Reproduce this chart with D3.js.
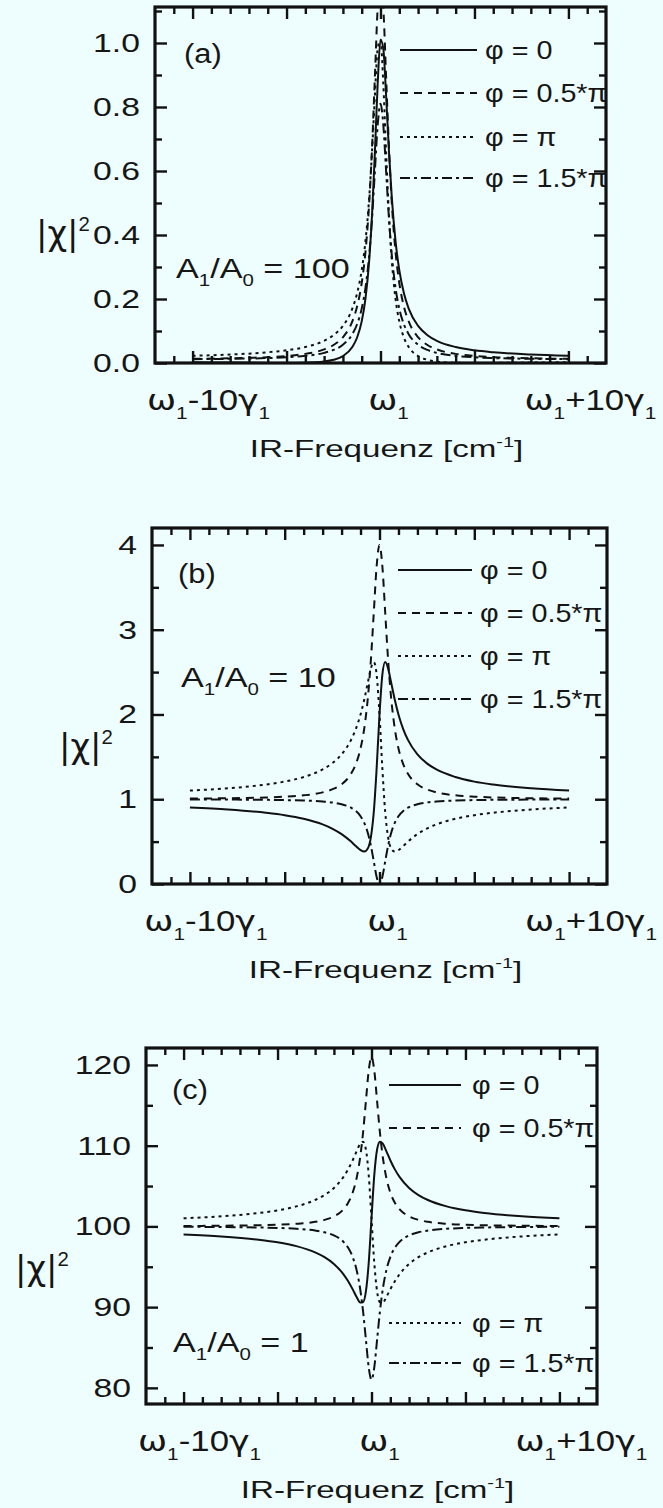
<!DOCTYPE html>
<html>
<head>
<meta charset="utf-8">
<script src="https://cdn.jsdelivr.net/npm/d3@7"></script>
<style>
  html, body { margin: 0; padding: 0; background: #eefefe; }
  svg { display: block; }
  text { font-family: "Liberation Sans", Arial, Helvetica, sans-serif; fill: #161616; }
  .greek { font-family: "DejaVu Sans", sans-serif; }
</style>
</head>
<body>
<svg id="fig" width="663" height="1508"></svg>
<script>
// Detuning from ω1, in units of γ1
const xGamma = [-10, -8, -6, -5, -4, -3, -2.5, -2, -1.5, -1.25, -1, -0.8, -0.6, -0.45, -0.3, -0.15, 0,
                0.15, 0.3, 0.45, 0.6, 0.8, 1, 1.25, 1.5, 2, 2.5, 3, 4, 5, 6, 8, 10];

const phaseLabels = ["φ = 0", "φ = 0.5*π", "φ = π", "φ = 1.5*π"];

// (a) A1/A0 = 100
const a100Phi0 = [0.0025, 0.0014, 0.0003, 0.0001, 0.0008, 0.0046, 0.0100, 0.0217, 0.05, 0.0789, 0.13, 0.2010, 0.3214, 0.4631, 0.6571, 0.8724, 1.01,
                  0.9824, 0.8335, 0.6619, 0.5182, 0.3808, 0.29, 0.2169, 0.17, 0.1159, 0.0870, 0.0694, 0.0500, 0.0397, 0.0335, 0.0264, 0.0225];
const a100Phi05 = [0.013, 0.0147, 0.0183, 0.0219, 0.0285, 0.0424, 0.0562, 0.0806, 0.13, 0.1755, 0.25, 0.3471, 0.5018, 0.673, 0.8924, 1.1109, 1.21,
                   1.1109, 0.8924, 0.673, 0.5018, 0.3471, 0.25, 0.1755, 0.13, 0.0806, 0.0562, 0.0424, 0.0285, 0.0219, 0.0183, 0.0147, 0.013];
const a100Phi1 = [0.0225, 0.0264, 0.0335, 0.0397, 0.0500, 0.0694, 0.0870, 0.1159, 0.17, 0.2169, 0.29, 0.3808, 0.5182, 0.6619, 0.8335, 0.9824, 1.01,
                  0.8724, 0.6571, 0.4631, 0.3214, 0.2010, 0.13, 0.0789, 0.05, 0.0217, 0.0100, 0.0046, 0.0008, 0.0001, 0.0003, 0.0014, 0.0025];
const a100Phi15 = [0.012, 0.0131, 0.0155, 0.0179, 0.0223, 0.0316, 0.0408, 0.057, 0.09, 0.1203, 0.17, 0.2347, 0.3378, 0.452, 0.5982, 0.7439, 0.81,
                   0.7439, 0.5982, 0.452, 0.3378, 0.2347, 0.17, 0.1203, 0.09, 0.057, 0.0408, 0.0316, 0.0223, 0.0179, 0.0155, 0.0131, 0.012];

// (b) A1/A0 = 10
const a10Phi0 = [0.903, 0.879, 0.841, 0.812, 0.769, 0.703, 0.654, 0.588, 0.5, 0.448, 0.4, 0.382, 0.426, 0.558, 0.853, 1.367, 2.0,
                 2.468, 2.618, 2.547, 2.393, 2.180, 2.0, 1.828, 1.7, 1.529, 1.423, 1.351, 1.262, 1.208, 1.173, 1.129, 1.102];
const a10Phi05 = [1.008, 1.012, 1.021, 1.030, 1.046, 1.081, 1.116, 1.176, 1.3, 1.414, 1.6, 1.843, 2.229, 2.658, 3.206, 3.752, 4.0,
                  3.752, 3.206, 2.658, 2.229, 1.843, 1.6, 1.414, 1.3, 1.176, 1.116, 1.081, 1.046, 1.030, 1.021, 1.012, 1.008];
const a10Phi1 = [1.102, 1.129, 1.173, 1.208, 1.262, 1.351, 1.423, 1.529, 1.7, 1.828, 2.0, 2.180, 2.393, 2.547, 2.618, 2.468, 2.0,
                 1.367, 0.853, 0.558, 0.426, 0.382, 0.4, 0.448, 0.5, 0.588, 0.654, 0.703, 0.769, 0.812, 0.841, 0.879, 0.903];
const a10Phi15 = [0.998, 0.996, 0.993, 0.990, 0.985, 0.973, 0.962, 0.941, 0.9, 0.862, 0.8, 0.719, 0.590, 0.448, 0.265, 0.083, 0.0,
                  0.083, 0.265, 0.448, 0.590, 0.719, 0.8, 0.862, 0.9, 0.941, 0.962, 0.973, 0.985, 0.990, 0.993, 0.996, 0.998];

// (c) A1/A0 = 1
const a1Phi0 = [99.005, 98.758, 98.351, 98.030, 97.553, 96.783, 96.193, 95.353, 94.1, 93.242, 92.2, 91.293, 90.574, 90.609, 91.911, 95.413, 101,
                106.421, 109.559, 110.497, 110.246, 109.269, 108.2, 107.034, 106.1, 104.765, 103.885, 103.271, 102.477, 101.990, 101.663, 101.250, 101.001];
const a1Phi05 = [100.053, 100.082, 100.145, 100.208, 100.323, 100.567, 100.808, 101.235, 102.1, 102.896, 104.2, 105.899, 108.606, 111.603, 115.441, 119.265, 121,
                 119.265, 115.441, 111.603, 108.606, 105.899, 104.2, 102.896, 102.1, 101.235, 100.808, 100.567, 100.323, 100.208, 100.145, 100.082, 100.053];
const a1Phi1 = [101.001, 101.250, 101.663, 101.990, 102.477, 103.271, 103.885, 104.765, 106.1, 107.034, 108.2, 109.269, 110.246, 110.497, 109.559, 106.421, 101,
                95.413, 91.911, 90.609, 90.574, 91.293, 92.2, 93.242, 94.1, 95.353, 96.193, 96.783, 97.553, 98.030, 98.351, 98.758, 99.005];
const a1Phi15 = [99.953, 99.926, 99.869, 99.812, 99.707, 99.487, 99.269, 98.883, 98.1, 97.380, 96.2, 94.663, 92.214, 89.503, 86.029, 82.569, 81,
                 82.569, 86.029, 89.503, 92.214, 94.663, 96.2, 97.380, 98.1, 98.883, 99.269, 99.487, 99.707, 99.812, 99.869, 99.926, 99.953];

// Axis ticks
const xTickLabels = [
  [{ t: "ω", g: true }, { t: "1", sub: true }, { t: "-10" }, { t: "γ", g: true }, { t: "1", sub: true }],
  [{ t: "ω", g: true }, { t: "1", sub: true }],
  [{ t: "ω", g: true }, { t: "1", sub: true }, { t: "+10" }, { t: "γ", g: true }, { t: "1", sub: true }]
];
const xMajorTicks = [-10, -5, 0, 5, 10];
const xLabelTicks = [-10, 0, 10];
const xMinorTicks = d3.range(-11, 12, 1);

const yTicksA = [0.0, 0.2, 0.4, 0.6, 0.8, 1.0];
const yMinorA = [0.1, 0.3, 0.5, 0.7, 0.9, 1.1];
const yTicksB = [0, 1, 2, 3, 4];
const yMinorB = [0.5, 1.5, 2.5, 3.5];
const yTicksC = [80, 90, 100, 110, 120];
const yMinorC = [85, 95, 105, 115];

const ratioLabels = ["100", "10", "1"];
const panelTags = ["(a)", "(b)", "(c)"];

// solid, dashed, dotted, dash-dot
const dashes = [null, "8,6", "3,4", "10,4,3,4"];

const panels = [
  {
    tag: panelTags[0], ratio: ratioLabels[0],
    frame: { l: 155, r: 606, t: 7, b: 363 }, yDomain: [0, 1.1125],
    yMajor: yTicksA, yMinor: yMinorA, yFmt: d3.format(".1f"),
    series: [a100Phi0, a100Phi05, a100Phi1, a100Phi15],
    legend: { x1: 400, x2: 477, tx: 485, rows: [50, 93, 137, 178] },
    tagPos: [184, 63], ratioPos: [176, 278], yLab: [36, 245]
  },
  {
    tag: panelTags[1], ratio: ratioLabels[1],
    frame: { l: 152, r: 607, t: 528, b: 884 }, yDomain: [0, 4.2],
    yMajor: yTicksB, yMinor: yMinorB, yFmt: d3.format("d"),
    series: [a10Phi0, a10Phi05, a10Phi1, a10Phi15],
    legend: { x1: 398, x2: 472, tx: 480, rows: [570, 613, 656, 699] },
    tagPos: [178, 583], ratioPos: [181, 687], yLab: [59, 758]
  },
  {
    tag: panelTags[2], ratio: ratioLabels[2],
    frame: { l: 146, r: 597, t: 1048, b: 1404 }, yDomain: [78, 122.1],
    yMajor: yTicksC, yMinor: yMinorC, yFmt: d3.format("d"),
    series: [a1Phi0, a1Phi05, a1Phi1, a1Phi15],
    legend: { x1: 389, x2: 461, tx: 472, rows: [1085, 1128, 1323, 1363] },
    tagPos: [172, 1099], ratioPos: [173, 1352], yLab: [15, 1280]
  }
];

const svg = d3.select("#fig");

// Text with sub/superscripts, stretched horizontally by sx
function richText(g, x, y, parts, size, sx, anchor) {
  const t = g.append("text")
    .attr("transform", `translate(${x},${y}) scale(${sx},1)`)
    .attr("text-anchor", anchor || "start")
    .style("font-size", size + "px");
  let shift = 0;
  parts.forEach(p => {
    const target = p.sub ? size * 0.3 : p.sup ? -size * 0.42 : 0;
    const ts = t.append("tspan").text(p.t).attr("dy", target - shift);
    shift = target;
    if (p.sub || p.sup) ts.style("font-size", (size * 0.6) + "px");
    if (p.g) ts.attr("class", "greek");
  });
  return t;
}

panels.forEach((P, i) => {
  const f = P.frame;
  const g = svg.append("g");
  const x = d3.scaleLinear().domain([-12, 12]).range([f.l, f.r]);
  const y = d3.scaleLinear().domain(P.yDomain).range([f.b, f.t]);

  // inward ticks on all four sides
  const tick = (axis, tr) => {
    const a = g.append("g").attr("transform", tr).call(axis);
    a.select(".domain").remove();
    a.selectAll("line").attr("stroke", "#111").attr("stroke-width", 2.4);
    a.selectAll("text").remove();
  };
  const xMinor = xMinorTicks.filter(v => v % 5 !== 0);
  tick(d3.axisBottom(x).tickValues(xMinor).tickSize(-7), `translate(0,${f.b})`);
  tick(d3.axisBottom(x).tickValues(xMajorTicks).tickSize(-12), `translate(0,${f.b})`);
  tick(d3.axisTop(x).tickValues(xMinor).tickSize(-7), `translate(0,${f.t})`);
  tick(d3.axisTop(x).tickValues(xMajorTicks).tickSize(-12), `translate(0,${f.t})`);
  tick(d3.axisLeft(y).tickValues(P.yMinor).tickSize(-7), `translate(${f.l},0)`);
  tick(d3.axisLeft(y).tickValues(P.yMajor).tickSize(-12), `translate(${f.l},0)`);
  tick(d3.axisRight(y).tickValues(P.yMinor).tickSize(-7), `translate(${f.r},0)`);
  tick(d3.axisRight(y).tickValues(P.yMajor).tickSize(-12), `translate(${f.r},0)`);

  // frame
  g.append("rect")
    .attr("x", f.l).attr("y", f.t).attr("width", f.r - f.l).attr("height", f.b - f.t)
    .attr("fill", "none").attr("stroke", "#111").attr("stroke-width", 3.2);

  // y tick labels
  P.yMajor.forEach(v => {
    g.append("text")
      .attr("transform", `translate(${f.l - 15},${y(v) + 9}) scale(1.35,1)`)
      .attr("text-anchor", "end")
      .style("font-size", "25px")
      .text(P.yFmt(v));
  });

  // x tick labels
  const labelDx = [16, 8, 22];
  xLabelTicks.forEach((v, k) => {
    richText(g, x(v) + labelDx[k], f.b + 47, xTickLabels[k], 29, 1.2, "middle");
  });

  // x axis title
  richText(g, x(0) + 6, f.b + 94,
    [{ t: "IR-Frequenz [cm" }, { t: "-1", sup: true }, { t: "]" }], 24, 1.38, "middle");

  // y axis title
  richText(g, P.yLab[0], P.yLab[1], [{ t: "|χ|", g: true }, { t: "2", sup: true }], 34, 1.0, "start");

  // panel tag and amplitude ratio
  richText(g, P.tagPos[0], P.tagPos[1], [{ t: P.tag }], 28, 1.1, "start");
  richText(g, P.ratioPos[0], P.ratioPos[1],
    [{ t: "A" }, { t: "1", sub: true }, { t: "/A" }, { t: "0", sub: true }, { t: " = " + P.ratio }], 28, 1.22, "start");

  // curves
  const clipId = "clip" + i;
  g.append("clipPath").attr("id", clipId).append("rect")
    .attr("x", f.l).attr("y", f.t).attr("width", f.r - f.l).attr("height", f.b - f.t);
  const line = d3.line()
    .x((d, k) => x(xGamma[k]))
    .y(d => y(d))
    .curve(d3.curveMonotoneX);
  P.series.forEach((s, k) => {
    g.append("path")
      .attr("clip-path", `url(#${clipId})`)
      .attr("d", line(s))
      .attr("fill", "none")
      .attr("stroke", "#111")
      .attr("stroke-width", 2)
      .attr("stroke-dasharray", dashes[k]);
  });

  // legend
  const L = P.legend;
  phaseLabels.forEach((lab, k) => {
    const ry = L.rows[k];
    g.append("line")
      .attr("x1", L.x1).attr("x2", L.x2).attr("y1", ry).attr("y2", ry)
      .attr("stroke", "#111").attr("stroke-width", 2)
      .attr("stroke-dasharray", dashes[k]);
    g.append("text")
      .attr("transform", `translate(${L.tx},${ry + 9}) scale(1.15,1)`)
      .style("font-size", "25px")
      .text(lab);
  });
});
</script>
</body>
</html>
